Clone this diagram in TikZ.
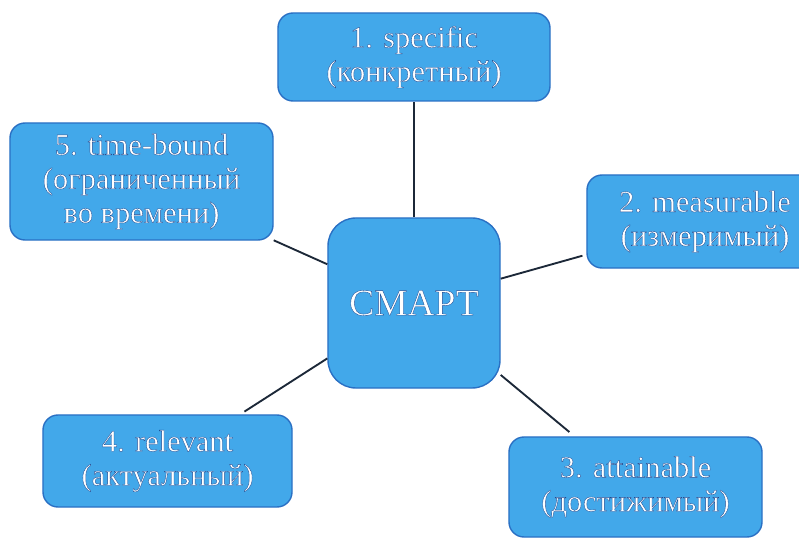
\documentclass[tikz,border=0pt]{standalone}
\usepackage{fontspec}
\setmainfont{Liberation Serif}
\usetikzlibrary{shapes,arrows,calc}
\definecolor{boxfill}{RGB}{66,168,234}
\definecolor{boxline}{RGB}{42,112,196}
\definecolor{edgecol}{RGB}{28,40,56}
% white letters with a thin dark blue edge
\newcommand{\glow}[1]{\special{pdf:code 2 Tr 0.3 w 0.12 0.30 0.58 RG}#1\special{pdf:code 0 Tr}}
\tikzstyle{block} = [rectangle, draw=boxline, fill=boxfill, line width=1.2pt,
    text=white, align=center, rounded corners=0.45cm, inner sep=0pt,
    font=\fontsize{26}{29}\selectfont]
\tikzstyle{line} = [draw=edgecol, line width=1.6pt]

\begin{document}
\begin{tikzpicture}[x=0.03cm, y=-0.03cm]
    \clip (0,0) rectangle (799,539);
    % Place nodes
    \node [block, minimum width=5.16cm, minimum height=5.1cm, rounded corners=0.84cm,
        font=\fontsize{32}{34}\selectfont] (smart) at (414,303) {\glow{СМАРТ}};
    \node [block, minimum width=8.16cm, minimum height=2.64cm] (spec) at (414,57)
        {\glow{1. specific}\\\glow{(конкретный)}};
    \node [block, minimum width=7.08cm, minimum height=2.79cm] (meas) at (705,221.5)
        {\glow{2. measurable}\\\glow{(измеримый)}};
    \node [block, minimum width=7.59cm, minimum height=3cm] (attain) at (635.5,487)
        {\glow{3. attainable}\\\glow{(достижимый)}};
    \node [block, minimum width=7.47cm, minimum height=2.76cm] (relev) at (167.5,461)
        {\glow{4. relevant}\\\glow{(актуальный)}};
    \node [block, minimum width=7.89cm, minimum height=3.51cm] (tbound) at (141.5,181.5)
        {\glow{5. time-bound}\\\glow{(ограниченный}\\\glow{во времени)}};
    % Draw edges
    \path [line] (smart) -- (spec);
    \path [line, shorten >=0.12cm] (smart) -- (meas);
    \path [line, shorten >=0.2cm] (smart) -- (attain);
    \path [line, shorten >=0.15cm] (smart) -- (relev);
    \path [line] (smart) -- (tbound);
\end{tikzpicture}
\end{document}
